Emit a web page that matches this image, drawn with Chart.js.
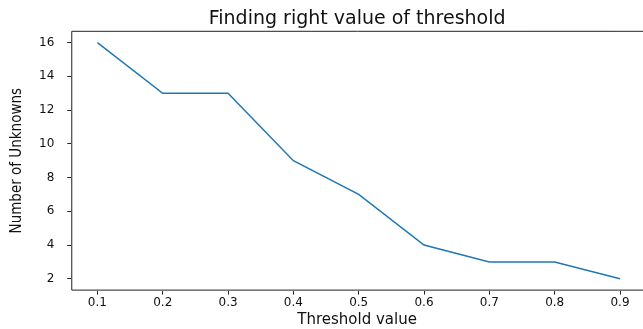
<!DOCTYPE html>
<html>
<head>
<meta charset="utf-8">
<script src="https://cdn.jsdelivr.net/npm/chart.js@4.4.1/dist/chart.umd.min.js"></script>
<style>
  html, body { margin: 0; padding: 0; background: #fff; }
  #wrap { width: 643px; height: 329px; }
</style>
</head>
<body>
<div id="wrap"><canvas id="chart"></canvas></div>
<script>
const thresholds = [0.1, 0.2, 0.3, 0.4, 0.5, 0.6, 0.7, 0.8, 0.9];
const unknowns = [16, 13, 13, 9, 7, 4, 3, 3, 2];
const xTicks = [0.1, 0.2, 0.3, 0.4, 0.5, 0.6, 0.7, 0.8, 0.9];
const yTicks = [2, 4, 6, 8, 10, 12, 14, 16];

// spines: top, left, bottom (the right one falls just off the picture)
const frame = {
  id: "frame",
  afterDraw(chart) {
    const { ctx, chartArea: a } = chart;
    ctx.save();
    ctx.strokeStyle = "#222";
    ctx.lineWidth = 1;
    ctx.beginPath();
    ctx.moveTo(a.right, a.top + 0.5);
    ctx.lineTo(a.left + 0.5, a.top + 0.5);
    ctx.lineTo(a.left + 0.5, a.bottom - 0.5);
    ctx.lineTo(a.right, a.bottom - 0.5);
    ctx.stroke();
    ctx.restore();
  },
};

const tickFont = { family: "DejaVu Sans", size: 12 };

new Chart(document.getElementById("chart"), {
  type: "line",
  data: {
    datasets: [
      {
        data: thresholds.map((t, i) => ({ x: t, y: unknowns[i] })),
        borderColor: "#1f77b4",
        borderWidth: 1.5,
        pointRadius: 0,
        tension: 0,
        fill: false,
      },
    ],
  },
  options: {
    responsive: true,
    maintainAspectRatio: false,
    animation: false,
    layout: { padding: { left: 8, right: 0, top: 0, bottom: 0 } },
    plugins: {
      legend: { display: false },
      tooltip: { enabled: false },
      title: {
        display: true,
        fullSize: false,
        text: "Finding right value of threshold",
        color: "#111",
        font: { family: "DejaVu Sans", size: 19, weight: "normal" },
        padding: { top: 8, bottom: 0 },
      },
    },
    scales: {
      x: {
        type: "linear",
        min: 0.06,
        max: 0.9352,
        afterBuildTicks: (axis) => {
          axis.ticks = xTicks.map((v) => ({ value: v }));
        },
        ticks: {
          color: "#111",
          font: tickFont,
          maxRotation: 0,
          padding: 1,
          callback: (v) => v.toFixed(1),
        },
        grid: { display: true, drawOnChartArea: false, drawTicks: true, tickLength: 4, color: "#222" },
        border: { display: false },
        title: {
          display: true,
          text: "Threshold value",
          color: "#111",
          font: { family: "DejaVu Sans", size: 15 },
          padding: { top: 0, bottom: 0 },
        },
      },
      y: {
        type: "linear",
        min: 1.3,
        max: 16.7,
        afterBuildTicks: (axis) => {
          axis.ticks = yTicks.map((v) => ({ value: v }));
        },
        ticks: { color: "#111", font: tickFont, padding: 13 },
        grid: { display: true, drawOnChartArea: false, drawTicks: true, tickLength: 4, color: "#222" },
        border: { display: false },
        title: {
          display: true,
          text: "Number of Unknowns",
          color: "#111",
          font: { family: "DejaVu Sans Condensed, DejaVu Sans", size: 15 },
          padding: { top: 0, bottom: 0 },
        },
      },
    },
  },
  plugins: [frame],
});
</script>
</body>
</html>
